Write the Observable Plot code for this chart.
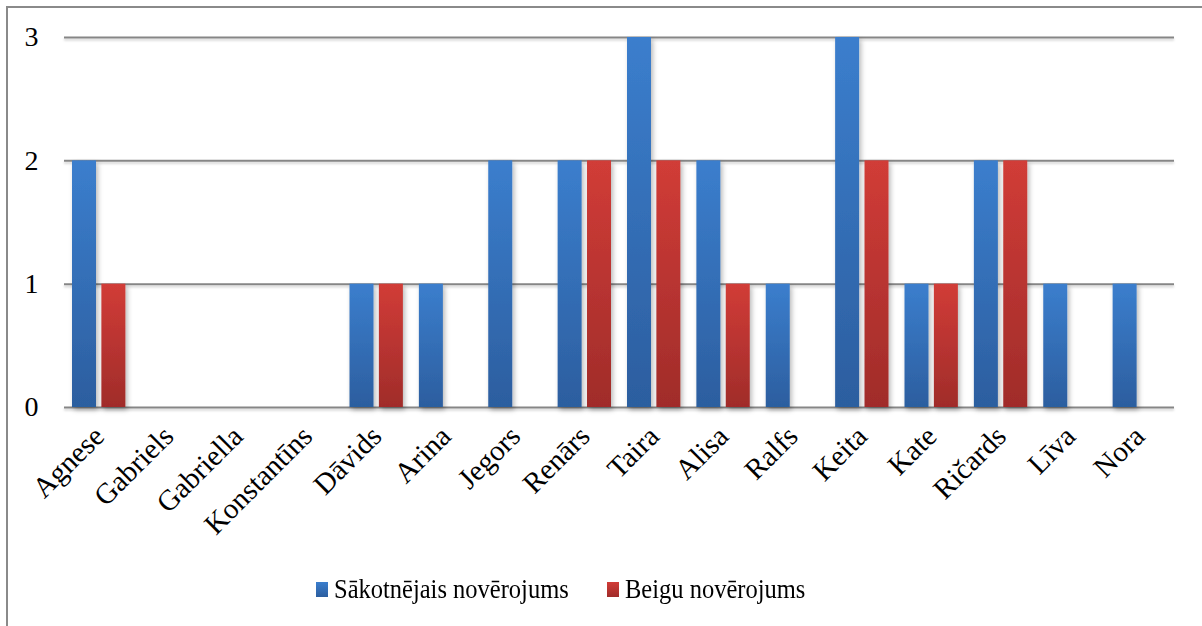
<!DOCTYPE html>
<html>
<head>
<meta charset="utf-8">
<script src="https://cdn.jsdelivr.net/npm/d3@7"></script>
<script src="https://cdn.jsdelivr.net/npm/@observablehq/plot@0.6"></script>
<style>
  body { margin: 0; background: #fff; }
  #wrap { position: relative; width: 1202px; height: 626px; overflow: hidden; }
  #frame { position: absolute; left: 6px; top: 6px; width: 1210px; height: 640px; border: 2px solid #8a8a8a; box-sizing: border-box; }
  #chart { position: absolute; left: 0; top: 0; }
  #legend { position: absolute; left: 0; top: 575px; width: 1202px; font-family: "Liberation Serif", "Times New Roman", serif; font-size: 24.5px; color: #000; }
  .item { position: absolute; display: flex; align-items: center; white-space: nowrap; font-family: "Liberation Serif", "Times New Roman", serif; }
  .item span { display: inline-block; transform: scaleY(1.12); transform-origin: 50% 50%; }
  .sw { width: 12px; height: 15px; margin-right: 6px; }
</style>
</head>
<body>
<div id="wrap">
  <div id="frame"></div>
  <div id="chart"></div>
  <div id="legend"></div>
</div>
<script>
const names = ["Agnese","Gabriels","Gabriella","Konstantīns","Dāvids","Arina","Jegors","Renārs","Taira","Alisa","Ralfs","Keita","Kate","Ričards","Līva","Nora"];
const seriesNames = ["Sākotnējais novērojums", "Beigu novērojums"];
const initialValues = [2,0,0,0,1,1,2,2,3,2,1,3,1,2,1,1];
const finalValues   = [1,0,0,0,1,0,0,2,2,1,0,2,1,2,0,0];
const yTicks = [0,1,2,3];

const rows = [];
names.forEach((n, i) => {
  rows.push({name: n, series: seriesNames[0], value: initialValues[i]});
  rows.push({name: n, series: seriesNames[1], value: finalValues[i]});
});

const W = 1202, H = 550;
const left = 64, right = 1174;
const band = (right - left) / names.length;
const barW = 24, outer = 8;
const serif = '"Liberation Serif", "Times New Roman", serif';

const defs = () => {
  const svg = d3.create("svg:g");
  const d = svg.append("defs");
  const g1 = d.append("linearGradient").attr("id", "gBlue").attr("x1", 0).attr("y1", 0).attr("x2", 0).attr("y2", 1);
  g1.append("stop").attr("offset", "0%").attr("stop-color", "#3b7ecd");
  g1.append("stop").attr("offset", "100%").attr("stop-color", "#2c5e9f");
  const g2 = d.append("linearGradient").attr("id", "gRed").attr("x1", 0).attr("y1", 0).attr("x2", 0).attr("y2", 1);
  g2.append("stop").attr("offset", "0%").attr("stop-color", "#d13c37");
  g2.append("stop").attr("offset", "100%").attr("stop-color", "#a02c2a");
  const f = d.append("filter").attr("id", "shadow").attr("x", "-30%").attr("y", "-10%").attr("width", "180%").attr("height", "130%");
  f.append("feDropShadow").attr("dx", 2).attr("dy", 3).attr("stdDeviation", 2.5).attr("flood-color", "#000").attr("flood-opacity", 0.28);
  const f2 = d.append("filter").attr("id", "lshadow").attr("x", "-5%").attr("y", "-200%").attr("width", "110%").attr("height", "500%");
  f2.append("feDropShadow").attr("dx", 0).attr("dy", 2).attr("stdDeviation", 1).attr("flood-color", "#000").attr("flood-opacity", 0.18);
  return svg.node();
};

const chart = Plot.plot({
  width: W,
  height: H,
  marginLeft: left,
  marginRight: W - right,
  marginTop: 37,
  marginBottom: H - 407,
  style: { fontFamily: serif, color: "#000", background: "transparent" },
  x: { domain: names, padding: 0, round: false, label: null },
  y: { domain: [0, 3], label: null },
  marks: [
    defs,
    Plot.gridY(yTicks, { stroke: "#868686", strokeOpacity: 1, strokeWidth: 2 }),
    Plot.barY(rows.filter(d => d.series === seriesNames[0] && d.value > 0), {
      x: "name", y: "value", fill: "url(#gBlue)",
      insetLeft: outer, insetRight: band - outer - barW
    }),
    Plot.barY(rows.filter(d => d.series === seriesNames[1] && d.value > 0), {
      x: "name", y: "value", fill: "url(#gRed)",
      insetLeft: band - outer - barW, insetRight: outer
    }),
    Plot.axisY({ ticks: yTicks, tickSize: 0, tickPadding: 26, tickFormat: d3.format("d"), fontSize: 28, fontFamily: serif, label: null }),
    Plot.axisX({ tickSize: 0, tickRotate: -45, tickPadding: 24, fontSize: 29, fontFamily: serif, label: null })
  ]
});
d3.select(chart).selectAll("g[aria-label='bar']").attr("filter", "url(#shadow)");
d3.select(chart).select("g[aria-label='y-grid']").attr("filter", "url(#lshadow)");
document.getElementById("chart").appendChild(chart);

const legend = document.getElementById("legend");
const pos = [316, 607];
const grads = ["linear-gradient(#3b7ecd, #2c5e9f)", "linear-gradient(#d13c37, #a02c2a)"];
seriesNames.forEach((s, i) => {
  const it = document.createElement("div");
  it.className = "item";
  it.style.left = pos[i] + "px";
  const sw = document.createElement("div");
  sw.className = "sw";
  sw.style.background = grads[i];
  const t = document.createElement("span");
  t.textContent = s;
  it.appendChild(sw); it.appendChild(t);
  legend.appendChild(it);
});
</script>
</body>
</html>
